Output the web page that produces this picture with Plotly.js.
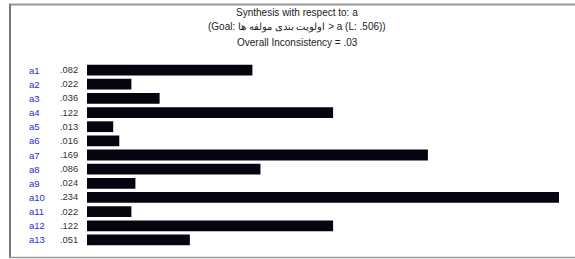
<!DOCTYPE html>
<html><head><meta charset="utf-8">
<script src="https://cdn.plot.ly/plotly-3.0.1.min.js"></script>
<style>html,body{margin:0;padding:0;background:#fff;}#c{width:575px;height:259px;}</style>
</head><body><div id="c"></div>
<script>
const categories = ["a1","a2","a3","a4","a5","a6","a7","a8","a9","a10","a11","a12","a13"];
const values = [0.082,0.022,0.036,0.122,0.013,0.016,0.169,0.086,0.024,0.234,0.022,0.122,0.051];
const valueLabels = [".082",".022",".036",".122",".013",".016",".169",".086",".024",".234",".022",".122",".051"];
const titleLines = ["Synthesis with respect to: a", "(Goal: \u200Eاولویت بندی مولفه ها\u200E > a (L: .506))", "Overall Inconsistency = .03"];

const W=575,H=259,ml=87,mr=16,mt=63,mb=12;
const pw=W-ml-mr, ph=H-mt-mb;
const px=x=>(x-ml)/pw, py=y=>(H-mb-y)/ph;
const font='Liberation Sans, Arial, sans-serif';
const ann=[];
categories.forEach((c,i)=>{
  ann.push({xref:'paper',yref:'y',x:px(27),y:c,text:c,showarrow:false,xanchor:'left',yanchor:'middle',font:{family:font,size:9.5,color:'#2a2ad8'}});
  ann.push({xref:'paper',yref:'y',x:px(80),y:c,text:valueLabels[i],showarrow:false,xanchor:'right',yanchor:'middle',font:{family:font,size:9.3,color:'#333'}});
});
[12,27,42].forEach((y,i)=>ann.push({xref:'paper',yref:'paper',x:px(297),y:py(y),text:titleLines[i],showarrow:false,xanchor:'center',yanchor:'middle',font:{family:font,size:10,color:'#222'}}));
Plotly.newPlot('c',[{type:'bar',orientation:'h',y:categories,x:values,marker:{color:'#050510',line:{width:0}},width:0.76,hoverinfo:'none'}],{
  width:W,height:H,margin:{l:ml,r:mr,t:mt,b:mb,pad:0},paper_bgcolor:'#fff',plot_bgcolor:'#fff',showlegend:false,
  xaxis:{range:[0,0.234],visible:false,fixedrange:true},
  yaxis:{type:'category',autorange:false,range:[12.5,-0.5],categoryorder:'array',categoryarray:categories,visible:false},
  annotations:ann,
  shapes:[
    {type:'line',xref:'paper',yref:'paper',x0:px(9),x1:px(576),y0:py(4.5),y1:py(4.5),line:{color:'#999',width:2}},
    {type:'line',xref:'paper',yref:'paper',x0:px(10),x1:px(10),y0:py(4),y1:py(258),line:{color:'#777',width:2}},
    {type:'line',xref:'paper',yref:'paper',x0:px(9),x1:px(576),y0:py(257.5),y1:py(257.5),line:{color:'#999',width:1.5}}
  ]
},{staticPlot:true});
</script></body></html>
